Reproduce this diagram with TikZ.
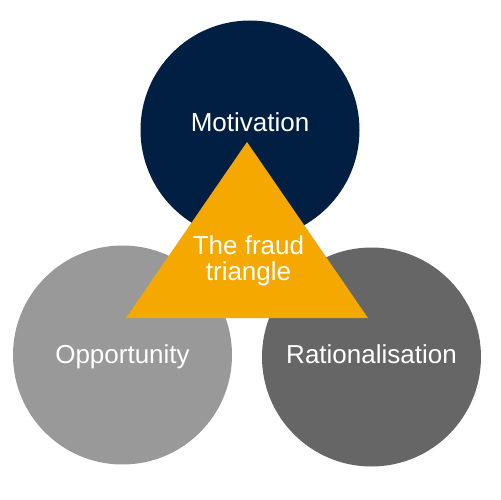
\documentclass[tikz,border=0pt]{standalone}
\usepackage{fontspec}
\setmainfont{Liberation Sans}
\usepackage{xcolor}
\definecolor{cNavy}{HTML}{001F42}
\definecolor{cLight}{HTML}{999999}
\definecolor{cDark}{HTML}{666666}
\definecolor{cOrange}{HTML}{F4A800}
\usepackage{tikz}
\usetikzlibrary{positioning,calc}
\tikzset{
  node-ring/.style={circle,minimum size=219pt,inner sep=0pt,draw=none},
  node-label/.style={text=white,align=center,inner sep=0pt,
    font=\fontsize{26}{26}\selectfont},
}

\begin{document}
\begin{tikzpicture}[x=1pt,y=-1pt]
  \useasboundingbox (0,0) rectangle (501,500);
  % three circles
  \node[node-ring,fill=cNavy]  (moti) at (250,130)   {};
  \node[node-ring,fill=cLight] (oppo) at (122.5,355) {};
  \node[node-ring,fill=cDark]  (rati) at (371.5,357) {};
  % the triangle on top
  \coordinate (apex)  at (247,142);
  \coordinate (left)  at (126,318);
  \coordinate (right) at (368,318);
  \fill[cOrange] (apex) -- (left) -- (right) -- cycle;
  % texts
  \node[node-label] (moti-text) at ([yshift=7.5pt]moti.center) {Motivation};
  \node[node-label] (oppo-text) at ([yshift=-1.5pt]oppo.center) {Opportunity};
  \node[node-label] (rati-text) at ([yshift=3pt]rati.center) {Rationalisation};
  \node[node-label] (tri-text) at (248.5,261) {The fraud\\triangle};
\end{tikzpicture}
\end{document}
